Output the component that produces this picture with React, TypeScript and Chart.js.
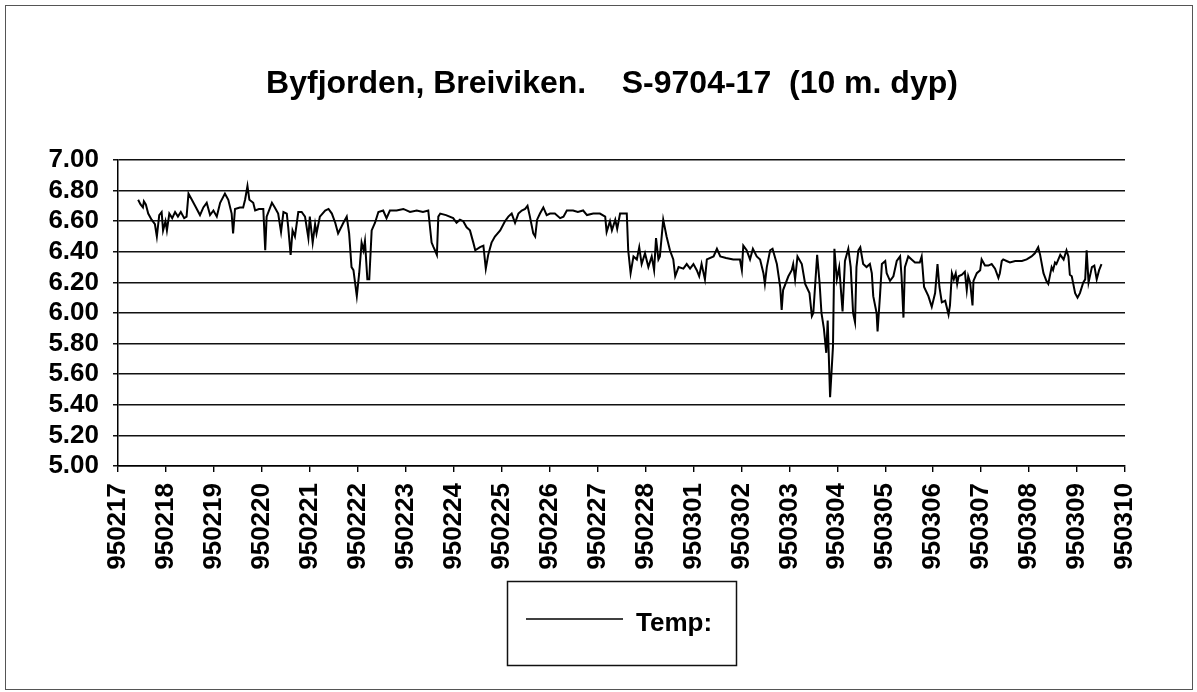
import { useEffect, useRef } from 'react';
import { Chart, registerables } from 'chart.js';

Chart.register(...registerables);

const FONT = '"Liberation Sans", Arial, Helvetica, sans-serif';
const TITLE = 'Byfjorden, Breiviken.    S-9704-17  (10 m. dyp)';
const SERIES_LABEL = 'Temp:';

// x tick labels (one per day, position = index in days since 950217)
const dateLabels = [
  '950217', '950218', '950219', '950220', '950221', '950222', '950223', '950224',
  '950225', '950226', '950227', '950228', '950301', '950302', '950303', '950304',
  '950305', '950306', '950307', '950308', '950309', '950310',
];

const yMin = 5.0;
const yMax = 7.0;
const yStep = 0.2;

// time of each reading, in days after 950217 00:00
const times = [
  0.42, 0.47, 0.52, 0.54, 0.58, 0.63, 0.70, 0.77, 0.81, 0.86,
  0.91, 0.94, 0.99, 1.02, 1.07, 1.13, 1.19, 1.25, 1.31, 1.38,
  1.43, 1.47, 1.54, 1.61, 1.71, 1.78, 1.85, 1.92, 1.99, 2.06,
  2.13, 2.23, 2.30, 2.37, 2.40, 2.44, 2.54, 2.61, 2.65, 2.70,
  2.74, 2.82, 2.86, 2.94, 3.03, 3.07, 3.10, 3.21, 3.27, 3.34,
  3.40, 3.45, 3.52, 3.55, 3.60, 3.64, 3.69, 3.76, 3.83, 3.90,
  3.97, 4.00, 4.06, 4.11, 4.14, 4.21, 4.32, 4.39, 4.46, 4.53,
  4.59, 4.70, 4.77, 4.82, 4.87, 4.91, 4.98, 5.03, 5.08, 5.12,
  5.15, 5.20, 5.24, 5.29, 5.36, 5.43, 5.53, 5.60, 5.67, 5.81,
  5.95, 6.09, 6.23, 6.36, 6.47, 6.54, 6.58, 6.61, 6.65, 6.68,
  6.72, 6.84, 6.99, 7.06, 7.13, 7.20, 7.27, 7.34, 7.41, 7.45,
  7.55, 7.62, 7.67, 7.72, 7.79, 7.86, 7.97, 8.07, 8.14, 8.21,
  8.28, 8.35, 8.42, 8.49, 8.54, 8.59, 8.66, 8.70, 8.74, 8.80,
  8.87, 8.94, 9.01, 9.11, 9.22, 9.29, 9.36, 9.49, 9.59, 9.70,
  9.78, 9.91, 10.05, 10.16, 10.19, 10.26, 10.30, 10.37, 10.41, 10.47,
  10.61, 10.64, 10.69, 10.75, 10.82, 10.87, 10.92, 10.99, 11.06, 11.13,
  11.18, 11.22, 11.27, 11.30, 11.37, 11.44, 11.51, 11.58, 11.62, 11.69,
  11.79, 11.86, 11.93, 12.00, 12.07, 12.12, 12.17, 12.24, 12.28, 12.42,
  12.49, 12.56, 12.68, 12.83, 12.97, 13.01, 13.04, 13.11, 13.18, 13.24,
  13.32, 13.39, 13.46, 13.49, 13.53, 13.60, 13.65, 13.74, 13.81, 13.84,
  13.87, 13.98, 14.05, 14.08, 14.12, 14.17, 14.26, 14.33, 14.42, 14.47,
  14.50, 14.58, 14.63, 14.67, 14.72, 14.77, 14.80, 14.85, 14.91, 14.94,
  14.99, 15.04, 15.11, 15.16, 15.23, 15.28, 15.33, 15.37, 15.40, 15.44,
  15.48, 15.54, 15.61, 15.68, 15.72, 15.75, 15.82, 15.84, 15.89, 15.93,
  16.00, 16.03, 16.10, 16.17, 16.24, 16.31, 16.34, 16.38, 16.41, 16.48,
  16.55, 16.62, 16.72, 16.76, 16.81, 16.90, 16.97, 17.04, 17.09, 17.13,
  17.18, 17.25, 17.32, 17.35, 17.39, 17.43, 17.47, 17.50, 17.53, 17.60,
  17.66, 17.70, 17.73, 17.77, 17.82, 17.84, 17.91, 17.98, 18.01, 18.08,
  18.15, 18.22, 18.29, 18.36, 18.39, 18.43, 18.46, 18.53, 18.60, 18.71,
  18.85, 18.95, 19.05, 19.12, 19.19, 19.23, 19.30, 19.36, 19.40, 19.47,
  19.50, 19.54, 19.57, 19.65, 19.72, 19.78, 19.82, 19.85, 19.89, 19.96,
  20.01, 20.06, 20.13, 20.17, 20.20, 20.24, 20.31, 20.36, 20.41, 20.46,
  20.51,
];

// temperature (deg C) at each reading
const temps = [
  6.74, 6.71, 6.69, 6.73, 6.71, 6.65, 6.61, 6.58, 6.50, 6.64,
  6.66, 6.54, 6.60, 6.54, 6.65, 6.62, 6.66, 6.63, 6.66, 6.62,
  6.63, 6.78, 6.74, 6.70, 6.64, 6.69, 6.72, 6.64, 6.67, 6.63,
  6.72, 6.78, 6.74, 6.65, 6.52, 6.68, 6.69, 6.69, 6.74, 6.83,
  6.74, 6.72, 6.67, 6.68, 6.68, 6.41, 6.63, 6.72, 6.69, 6.65,
  6.53, 6.66, 6.65, 6.56, 6.38, 6.54, 6.50, 6.66, 6.66, 6.63,
  6.49, 6.63, 6.46, 6.58, 6.52, 6.63, 6.67, 6.68, 6.65, 6.59,
  6.52, 6.59, 6.63, 6.52, 6.30, 6.28, 6.11, 6.26, 6.46, 6.41,
  6.47, 6.22, 6.22, 6.54, 6.59, 6.66, 6.67, 6.62, 6.67, 6.67,
  6.68, 6.66, 6.67, 6.66, 6.67, 6.46, 6.43, 6.41, 6.38, 6.63,
  6.65, 6.64, 6.62, 6.59, 6.61, 6.60, 6.56, 6.54, 6.46, 6.41,
  6.43, 6.44, 6.29, 6.38, 6.46, 6.50, 6.54, 6.60, 6.63, 6.65,
  6.59, 6.65, 6.67, 6.68, 6.70, 6.63, 6.52, 6.50, 6.61, 6.65,
  6.69, 6.64, 6.65, 6.65, 6.62, 6.63, 6.67, 6.67, 6.66, 6.67,
  6.64, 6.65, 6.65, 6.63, 6.53, 6.60, 6.54, 6.61, 6.55, 6.65,
  6.65, 6.41, 6.26, 6.37, 6.35, 6.43, 6.32, 6.39, 6.30, 6.37,
  6.28, 6.49, 6.35, 6.37, 6.61, 6.50, 6.41, 6.35, 6.24, 6.30,
  6.29, 6.32, 6.29, 6.32, 6.28, 6.24, 6.32, 6.22, 6.35, 6.37,
  6.42, 6.37, 6.36, 6.35, 6.35, 6.28, 6.44, 6.41, 6.35, 6.42,
  6.37, 6.35, 6.26, 6.19, 6.30, 6.41, 6.42, 6.32, 6.17, 6.02,
  6.15, 6.24, 6.28, 6.32, 6.22, 6.37, 6.32, 6.19, 6.13, 5.98,
  6.00, 6.38, 6.20, 6.00, 5.90, 5.74, 5.95, 5.45, 5.78, 6.42,
  6.22, 6.30, 6.01, 6.34, 6.42, 6.30, 6.00, 5.94, 6.30, 6.41,
  6.43, 6.32, 6.30, 6.32, 6.26, 6.11, 6.00, 5.88, 6.11, 6.32,
  6.34, 6.26, 6.21, 6.24, 6.34, 6.37, 6.24, 5.97, 6.30, 6.37,
  6.35, 6.33, 6.33, 6.37, 6.17, 6.11, 6.04, 6.13, 6.32, 6.17,
  6.07, 6.08, 5.99, 6.05, 6.26, 6.22, 6.26, 6.19, 6.24, 6.25,
  6.27, 6.15, 6.24, 6.20, 6.05, 6.21, 6.26, 6.28, 6.35, 6.31,
  6.31, 6.32, 6.29, 6.23, 6.26, 6.34, 6.35, 6.34, 6.33, 6.34,
  6.34, 6.35, 6.37, 6.39, 6.43, 6.38, 6.26, 6.21, 6.19, 6.30,
  6.28, 6.33, 6.32, 6.38, 6.35, 6.41, 6.37, 6.25, 6.24, 6.13,
  6.10, 6.13, 6.20, 6.22, 6.41, 6.20, 6.30, 6.31, 6.22, 6.28,
  6.32,
];

const decorPlugin = {
  id: 'decor',
  afterDraw(chart: any) {
    const ctx = chart.ctx as CanvasRenderingContext2D;
    ctx.save();
    // outer frame
    ctx.strokeStyle = '#555';
    ctx.lineWidth = 1;
    ctx.strokeRect(5.5, 5.5, 1187, 684);
    // title
    ctx.fillStyle = '#000';
    ctx.font = `bold 32px ${FONT}`;
    ctx.textAlign = 'center';
    ctx.textBaseline = 'alphabetic';
    ctx.fillText(TITLE, 612, 93);
    // legend box
    ctx.strokeStyle = '#111';
    ctx.lineWidth = 1.5;
    ctx.strokeRect(507.5, 581.5, 229, 84);
    ctx.beginPath();
    ctx.lineWidth = 1.4;
    ctx.strokeStyle = '#000';
    ctx.moveTo(526, 619);
    ctx.lineTo(623, 619);
    ctx.stroke();
    ctx.font = `bold 26px ${FONT}`;
    ctx.textAlign = 'left';
    ctx.fillText(SERIES_LABEL, 636, 631);
    ctx.restore();
  },
};

export default function App() {
  const ref = useRef<HTMLCanvasElement>(null);

  useEffect(() => {
    if (!ref.current) return;
    const points = times.map((t, i) => ({ x: t, y: temps[i] }));
    const chart = new Chart(ref.current, {
      type: 'line',
      data: {
        datasets: [
          {
            label: SERIES_LABEL,
            data: points,
            borderColor: '#000',
            borderWidth: 2,
            pointRadius: 0,
            tension: 0,
            fill: false,
          },
        ],
      },
      options: {
        animation: false,
        responsive: false,
        events: [],
        layout: { padding: { top: 160, right: 72, left: 0, bottom: 0 } },
        plugins: {
          legend: { display: false },
          title: { display: false },
          tooltip: { enabled: false },
        },
        scales: {
          x: {
            type: 'linear',
            min: 0,
            max: dateLabels.length - 1,
            afterFit: (scale: any) => {
              scale.height = 226;
            },
            ticks: {
              stepSize: 1,
              autoSkip: false,
              minRotation: 90,
              maxRotation: 90,
              padding: 11,
              color: '#000',
              font: { family: FONT, size: 26, weight: 'bold' },
              callback: (v: any) => dateLabels[Math.round(Number(v))] ?? '',
            },
            grid: {
              drawOnChartArea: false,
              drawTicks: true,
              tickLength: 6,
              color: '#000',
              lineWidth: 1.4,
            },
            border: { display: true, color: '#000', width: 1.5 },
          },
          y: {
            type: 'linear',
            min: yMin,
            max: yMax,
            afterFit: (scale: any) => {
              scale.width = 118;
            },
            ticks: {
              stepSize: yStep,
              autoSkip: false,
              maxTicksLimit: 20,
              padding: 14,
              color: '#000',
              font: { family: FONT, size: 26, weight: 'bold', lineHeight: 1 },
              callback: (v: any) => Number(v).toFixed(2),
            },
            grid: {
              color: '#111',
              lineWidth: 1.5,
              drawTicks: true,
              tickLength: 5,
            },
            border: { display: true, color: '#000', width: 1.5 },
          },
        },
      },
      plugins: [decorPlugin],
    });
    return () => chart.destroy();
  }, []);

  return (
    <div
      style={{
        position: 'absolute',
        left: 0,
        top: 0,
        width: 1197,
        height: 692,
        background: '#fff',
      }}
    >
      <canvas ref={ref} width={1197} height={692} style={{ display: 'block' }} />
    </div>
  );
}
